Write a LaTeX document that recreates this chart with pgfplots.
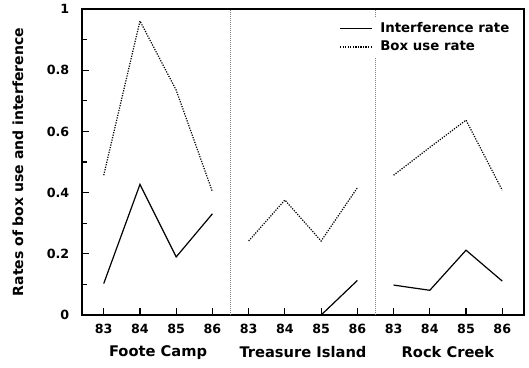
\documentclass[border=0pt]{standalone}
\usepackage{fontspec}
\setmainfont{DejaVu Sans}
\usepackage{pgfplots}
\pgfplotsset{compat=1.18}
\begin{document}
\begin{tikzpicture}
\begin{axis}[
 scale only axis, width=331.5pt, height=229.5pt,
 xmin=0.4, xmax=12.6, ymin=0, ymax=1,
 xtick={1,...,12},
 xticklabels={83,84,85,86,83,84,85,86,83,84,85,86},
 ytick={0,0.2,0.4,0.6,0.8,1},
 yticklabels={0,0.2,0.4,0.6,0.8,1},
 minor ytick={0.1,0.3,0.5,0.7,0.9},
 tick align=inside, xtick pos=bottom, ytick pos=left,
 major tick length=5pt, minor tick length=4pt,
 tick style={black, line width=0.9pt},
 axis line style={line width=1.1pt},
 ticklabel style={font=\bfseries\fontsize{9.5}{11}\selectfont},
 xticklabel style={yshift=-3pt},
 yticklabel style={xshift=-6pt},
 ylabel={Rates of box use and interference},
 ylabel style={font=\bfseries\fontsize{10.5}{12}\selectfont, at={(axis description cs:-0.145,0.5)}, anchor=center},
 legend style={draw=none, fill=white, at={(axis description cs:0.99,0.975)}, anchor=north east, font=\bfseries\fontsize{10}{12}\selectfont, row sep=1pt, inner sep=2pt, nodes={inner xsep=5.5pt}},
 legend cell align=left,
 legend image code/.code={\draw[#1] (0cm,0cm) -- (0.85cm,0cm);},
 clip=false,
]
\draw[densely dotted, gray, line width=0.5pt] (axis cs:4.5,0) -- (axis cs:4.5,1);
\draw[densely dotted, gray, line width=0.5pt] (axis cs:8.5,0) -- (axis cs:8.5,1);
\addplot[black, line width=0.9pt] coordinates {(1,0.103)(2,0.427)(3,0.19)(4,0.331)};
\addlegendentry{Interference rate}
\addplot[black, densely dotted, line width=0.9pt] coordinates {(1,0.457)(2,0.961)(3,0.735)(4,0.403)};
\addlegendentry{Box use rate}
\addplot[black, line width=0.9pt, forget plot] coordinates {(5,0)(6,0)(7,0)(8,0.113)};
\addplot[black, densely dotted, line width=0.9pt, forget plot] coordinates {(5,0.242)(6,0.376)(7,0.242)(8,0.416)};
\addplot[black, line width=0.9pt, forget plot] coordinates {(9,0.098)(10,0.081)(11,0.212)(12,0.111)};
\addplot[black, densely dotted, line width=0.9pt, forget plot] coordinates {(9,0.457)(10,0.548)(11,0.637)(12,0.408)};
\node[font=\bfseries\fontsize{11}{12}\selectfont] at (axis cs:2.5,0) [yshift=-28pt] {Foote Camp};
\node[font=\bfseries\fontsize{11}{12}\selectfont] at (axis cs:6.5,0) [yshift=-28pt] {Treasure Island};
\node[font=\bfseries\fontsize{11}{12}\selectfont] at (axis cs:10.5,0) [yshift=-28pt] {Rock Creek};
\end{axis}
\path ([shift={(-61.5pt,-39pt)}]current axis.south west) rectangle ([shift={(3.75pt,5.25pt)}]current axis.north east);
\end{tikzpicture}
\end{document}
